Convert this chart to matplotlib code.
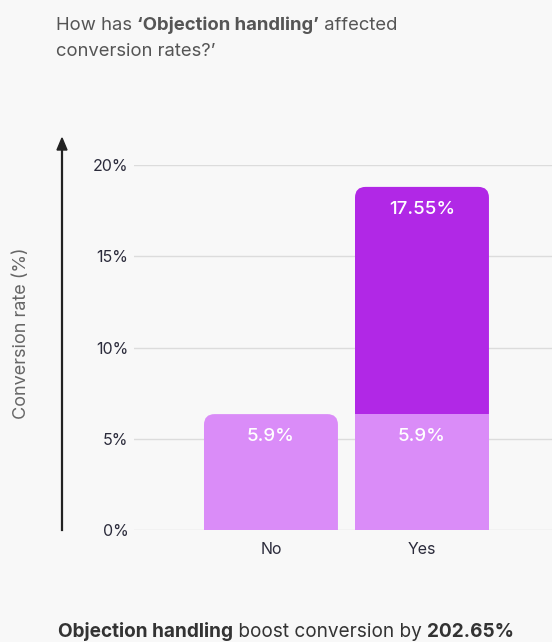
import matplotlib
matplotlib.use('Agg')
import matplotlib.pyplot as plt
from matplotlib.patches import FancyBboxPatch

plt.rcParams['font.family'] = ['Inter', 'DejaVu Sans']

# data
categories = ['No', 'Yes']
base_height = [6.35, 6.35]        # light segment (without objection handling)
top_height = [0.0, 12.45]         # extra segment on the "Yes" bar
base_labels = ['5.9%', '5.9%']
top_labels = ['', '17.55%']
yticks = [0, 5, 10, 15, 20]
ytick_labels = ['0%', '5%', '10%', '15%', '20%']

BG = '#f8f8f8'
LIGHT = '#da8cf8'
DARK = '#b128e6'
W, H = 552, 642

fig = plt.figure(figsize=(W / 100, H / 100), dpi=100, facecolor=BG)
ax = fig.add_axes([134 / W, 1 - 530 / H, (W - 134) / W, (530 - 165) / H])
ax.set_facecolor(BG)

x = list(range(len(categories)))
width = 0.887
light = ax.bar(x, base_height, width=width, color=LIGHT, zorder=3)
dark = ax.bar(x, top_height, width=width, bottom=base_height, color=DARK, zorder=2)

ax.set_xlim(-0.907, 1.861)
ax.set_ylim(0, 20)

# rounded top corners: replace bar rectangles with rounded boxes
aspect = 151 / 18.2
def round_bar(rect, rounded, z):
    bx, by = rect.get_x(), rect.get_y()
    bw, bh = rect.get_width(), rect.get_height()
    rect.remove()
    if bh <= 0:
        return
    if rounded:
        p = FancyBboxPatch((bx, by - 2), bw, bh + 2,
                           boxstyle='round,pad=0,rounding_size=0.07',
                           mutation_aspect=aspect, fc=rect.get_facecolor(),
                           ec='none', zorder=z)
    else:
        p = FancyBboxPatch((bx, by), bw, bh, boxstyle='square,pad=0',
                           fc=rect.get_facecolor(), ec='none', zorder=z)
    ax.add_patch(p)

for i in x:
    has_top = top_height[i] > 0
    round_bar(light[i], not has_top, 3)
    round_bar(dark[i], True, 2)

# value labels near the top of each segment
for i in x:
    ax.text(i, base_height[i] - 0.75, base_labels[i], ha='center', va='top',
            color='white', fontsize=13.5, fontweight='medium', zorder=5)
    if top_height[i] > 0:
        ax.text(i, base_height[i] + top_height[i] - 0.75, top_labels[i],
                ha='center', va='top', color='white', fontsize=13.5,
                fontweight='medium', zorder=5)

ax.set_yticks(yticks)
ax.set_yticklabels(ytick_labels)
ax.set_xticks(x)
ax.set_xticklabels(categories)
ax.tick_params(axis='y', length=0, pad=4, labelsize=11.5, labelcolor='#2b2b3b')
ax.tick_params(axis='x', length=0, pad=9, labelsize=11.5, labelcolor='#2b2b3b')
ax.grid(axis='y', color='#dcdcdc', lw=1, zorder=0)
for s in ax.spines.values():
    s.set_visible(False)

# arrow for the y axis
fig.add_artist(plt.Line2D([62 / W, 62 / W], [1 - 530 / H, 1 - 150 / H],
                          color='#222222', lw=1.6, transform=fig.transFigure))
fig.add_artist(plt.Polygon([[57 / W, 1 - 150 / H], [67 / W, 1 - 150 / H],
                            [62 / W, 1 - 138 / H]], closed=True,
                           color='#222222', transform=fig.transFigure))

fig.text(22 / W, 1 - 333 / H, 'Conversion rate (%)', rotation=90,
         ha='center', va='center', fontsize=13, color='#666666')


def rich_line(pieces, x0, y0, size, color):
    renderer = fig.canvas.get_renderer()
    xpos = x0
    for txt, weight in pieces:
        t = fig.text(xpos, y0, txt, fontsize=size, fontweight=weight,
                     color=color, ha='left', va='baseline')
        bb = t.get_window_extent(renderer=renderer)
        xpos += bb.width / W


rich_line([('How has ', 'normal'), ('\u2018Objection handling\u2019', 'bold'),
           (' affected', 'normal')], 56 / W, 1 - 30 / H, 13.3, '#555555')
rich_line([('conversion rates?\u2019', 'normal')], 56 / W, 1 - 56 / H, 13.3, '#555555')
rich_line([('Objection handling', 'bold'), (' boost conversion by ', 'normal'),
           ('202.65%', 'bold')], 58 / W, 1 - 637 / H, 13.7, '#333333')

fig.savefig('out.png', dpi=100, facecolor=BG)
